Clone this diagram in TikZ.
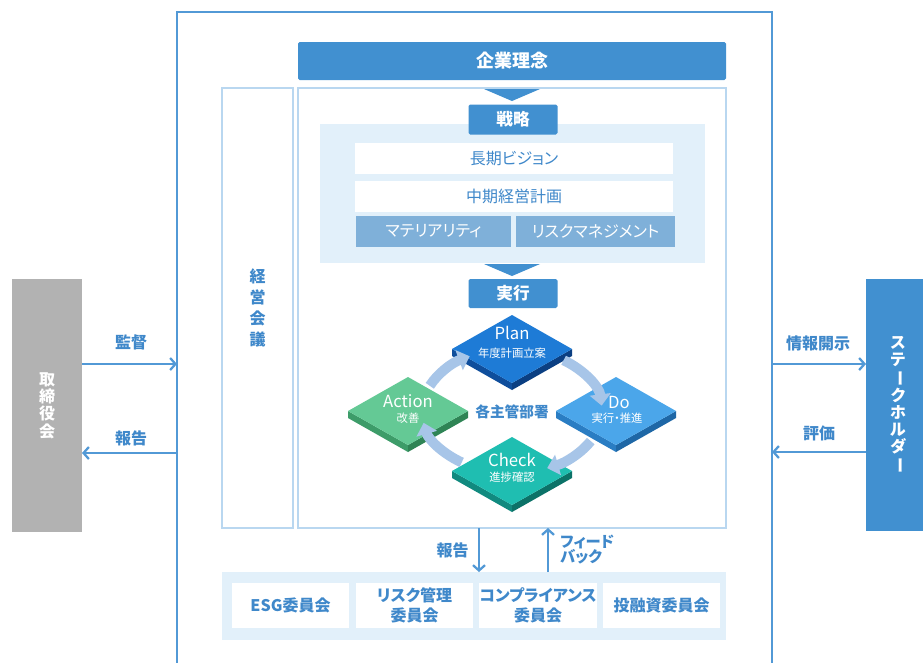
\documentclass[tikz,border=0pt]{standalone}
\usepackage{fontspec}
\usepackage{graphicx}
\setmainfont{Noto Sans CJK JP}[RawFeature=+palt]
\usetikzlibrary{arrows.meta,calc}
\definecolor{mainblue}{HTML}{4190D0}
\definecolor{framebl}{HTML}{5299D6}
\definecolor{panelbl}{HTML}{B9D7F0}
\definecolor{lightbg}{HTML}{E2F0FA}
\definecolor{matbl}{HTML}{7FB0D9}
\definecolor{textbl}{HTML}{3F88CA}
\definecolor{boardgray}{HTML}{B2B2B2}
\definecolor{cycbl}{HTML}{A7C5E8}
\definecolor{planT}{HTML}{1E7BD6}\definecolor{planL}{HTML}{0F4E9C}\definecolor{planR}{HTML}{0B3F82}
\definecolor{doT}{HTML}{4BA6EA}\definecolor{doL}{HTML}{2A7DC3}\definecolor{doR}{HTML}{1E67A6}
\definecolor{chkT}{HTML}{1FBEB1}\definecolor{chkL}{HTML}{118A7F}\definecolor{chkR}{HTML}{0C7268}
\definecolor{actT}{HTML}{64C995}\definecolor{actL}{HTML}{3D9C69}\definecolor{actR}{HTML}{2F8455}
\newcommand{\pxl}[1]{#1*0.75pt}
\newcommand{\vbar}{\rotatebox[origin=c]{-90}{ー}}
\newcommand{\slab}[5]{%
  \fill[#4] (#1-60,#2) -- (#1,#2+34) -- (#1,#2+41) -- (#1-60,#2+7) -- cycle;
  \fill[#5] (#1,#2+34) -- (#1+60,#2) -- (#1+60,#2+7) -- (#1,#2+41) -- cycle;
  \fill[#3] (#1-60,#2) -- (#1,#2-34) -- (#1+60,#2) -- (#1,#2+34) -- cycle;}
\tikzset{
  box/.style={rectangle, inner sep=0pt, outer sep=0pt},
  bluebar/.style={box, fill=mainblue, text=white, rounded corners=1.2pt,
    font=\bfseries\fontsize{12.5}{14}\selectfont},
  panel/.style={box, draw=panelbl, line width=1.1pt, fill=white},
  wbox/.style={box, fill=white, text=textbl, font=\fontsize{12}{14}\selectfont},
  mbox/.style={box, fill=matbl, text=white, font=\fontsize{12}{14}\selectfont},
  cbox/.style={box, fill=white, text=textbl, align=center,
    minimum width=\pxl{117}, minimum height=\pxl{45},
    font=\bfseries\fontsize{12}{15}\selectfont},
  lbl/.style={text=textbl, inner sep=0pt, font=\bfseries\fontsize{12}{12.5}\selectfont},
  link/.style={draw=framebl, line width=2pt,
    -{Straight Barb[length=4pt,width=9pt,line width=1.7pt]}},
  cyc/.style={draw=cycbl, line width=7.5pt, -{Triangle[length=8.5pt,width=15.5pt]}},
  pbig/.style={text=white, inner sep=0pt, font=\fontsize{12.5}{14}\selectfont},
  psmall/.style={text=white, inner sep=0pt, font=\fontsize{8.5}{10}\selectfont},
}
\begin{document}
\begin{tikzpicture}[x=0.75pt,y=-0.75pt]
\useasboundingbox (0,0) rectangle (923,662);
\clip (0,0) rectangle (923,662);
\fill[white] (0,0) rectangle (923,662);
% outer frame
\draw[framebl, line width=2pt] (177,675) -- (177,12) -- (772,12) -- (772,675);
% board and stakeholders
\node[box, fill=boardgray, minimum width=\pxl{70}, minimum height=\pxl{253},
  text=white, align=center, font=\bfseries\fontsize{12}{13}\selectfont] (board) at (47,405.5) {取\\締\\役\\会};
\node[box, fill=mainblue, minimum width=\pxl{64}, minimum height=\pxl{252},
  text=white, align=center, font=\bfseries\fontsize{12}{12.8}\selectfont] (stake) at (898,405) {ス\\テ\\\vbar\\ク\\ホ\\ル\\ダ\\\vbar};
\coordinate (fl1) at (177,364);
\coordinate (fl2) at (177,453);
\coordinate (fr1) at (772,364);
\coordinate (fr2) at (772,452);
\draw[link] (board.east |- fl1) -- (fl1);
\draw[link] (fl2) -- (board.east |- fl2);
\draw[link] (fr1) -- (stake.west |- fr1);
\draw[link] (stake.west |- fr2) -- (fr2);
\node[lbl] (lkantoku) at (131,342) {監督};
\node[lbl] (lhokoku1) at (131,438) {報告};
\node[lbl] (ljoho) at (818,343) {情報開示};
\node[lbl] (lhyoka) at (819,433) {評価};
% panels
\node[panel, minimum width=\pxl{71}, minimum height=\pxl{440}, text=textbl, align=center,
  font=\bfseries\fontsize{12}{15.75}\selectfont] (keiei) at (257.5,308) {経\\営\\会\\議};
\node[panel, minimum width=\pxl{428}, minimum height=\pxl{440}] (mainp) at (512,308) {};
\node[bluebar, minimum width=\pxl{428}, minimum height=\pxl{38},
  font=\bfseries\fontsize{13.5}{15}\selectfont] (rinen) at (512,61) {企業理念};
\fill[mainblue] (484,89) -- (540,89) -- (512,101) -- cycle;
\node[box, fill=lightbg, minimum width=\pxl{385}, minimum height=\pxl{139}] (stratbg) at (512.5,193.5) {};
\node[bluebar, minimum width=\pxl{89}, minimum height=\pxl{30}] (senryaku) at (513,119.5) {戦略};
\node[wbox, minimum width=\pxl{318}, minimum height=\pxl{31}] (choki) at (514,158.5) {長期ビジョン};
\node[wbox, minimum width=\pxl{318}, minimum height=\pxl{31}] (chuki) at (514,196.5) {中期経営計画};
\node[mbox, minimum width=\pxl{155}, minimum height=\pxl{31}] (mat) at (433.5,231.5) {マテリアリティ};
\node[mbox, minimum width=\pxl{159}, minimum height=\pxl{31}] (risk) at (595.5,231.5) {リスクマネジメント};
\fill[mainblue] (484,264) -- (540,264) -- (512,276) -- cycle;
\node[bluebar, minimum width=\pxl{89}, minimum height=\pxl{29}] (jikko) at (513,293.5) {実行};
% PDCA slabs
\slab{512}{349}{planT}{planL}{planR}
\slab{616}{411}{doT}{doL}{doR}
\slab{408}{411}{actT}{actL}{actR}
\slab{512}{471}{chkT}{chkL}{chkR}
% cycle arrows
\draw[cyc] ($(512,411)+(204:90 and 62)$) arc[start angle=204,end angle=242,x radius=90,y radius=62];
\draw[cyc] ($(512,411)+(305:90 and 62)$) arc[start angle=305,end angle=355,x radius=90,y radius=62];
\draw[cyc] ($(512,411)+(29:90 and 62)$) arc[start angle=29,end angle=67,x radius=90,y radius=62];
\draw[cyc] ($(512,411)+(124:90 and 62)$) arc[start angle=124,end angle=169,x radius=90,y radius=62];
% PDCA texts
\node[pbig] (plan) at (512,333) {Plan};
\node[psmall] (plans) at (512,353) {年度計画立案};
\node[pbig] (do) at (619,402) {Do};
\node[psmall] (dos) at (617,418) {実行・推進};
\node[pbig] (act) at (408,401) {Action};
\node[psmall] (acts) at (408,418) {改善};
\node[pbig] (chk) at (512,460) {Check};
\node[psmall] (chks) at (512,477) {進捗確認};
\node[lbl, font=\bfseries\fontsize{11}{13}\selectfont] (kaku) at (512,412) {各主管部署};
% committees
\node[box, fill=lightbg, minimum width=\pxl{504}, minimum height=\pxl{68}] (comm) at (474,606) {};
\node[cbox] (esg) at (290.5,605.5) {ESG委員会};
\node[cbox] (riskc) at (414.5,605.5) {リスク管理\\委員会};
\node[cbox] (comp) at (538,605.5) {コンプライアンス\\委員会};
\node[cbox] (toyu) at (661.5,605.5) {投融資委員会};
\coordinate (xh) at (479,0);
\coordinate (xf) at (548,0);
\draw[link] (xh |- mainp.south) -- (xh |- comm.north);
\draw[link] (xf |- comm.north) -- (xf |- mainp.south);
\node[lbl] (lhokoku2) at (452.5,550) {報告};
\node[lbl, anchor=west, align=left, font=\bfseries\fontsize{11.5}{11.5}\selectfont] (lfb) at (560,549.5) {フィード\\バック};
\end{tikzpicture}
\end{document}
